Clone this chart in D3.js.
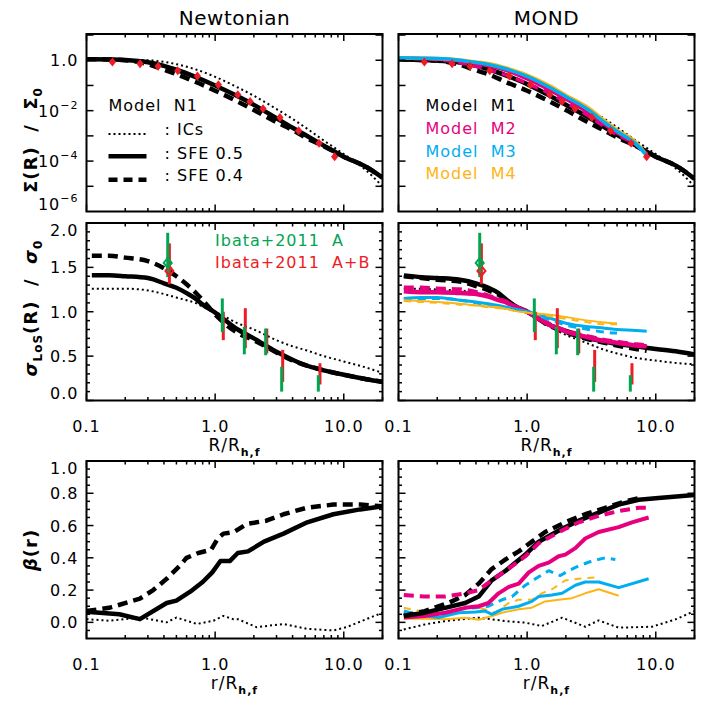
<!DOCTYPE html>
<html>
<head>
<meta charset="utf-8">
<script src="https://cdn.jsdelivr.net/npm/d3@7"></script>
<style>
  body { margin: 0; background: #fff; }
  text { font-family: "DejaVu Sans", sans-serif; letter-spacing: 1px; }
</style>
</head>
<body>
<div id="chart"></div>
<script>
// ---------- data ----------

// tick labels
var xTickVals = [0.1, 1, 10];
var xTickLabels = ["0.1", "1.0", "10.0"];
var sigTickVals = [1, 1e-2, 1e-4, 1e-6];
var sigTickBase = ["1.0", "10", "10", "10"];
var sigTickExp = ["", "\u22122", "\u22124", "\u22126"];
var velTickVals = [0, 0.5, 1, 1.5, 2];
var velTickLabels = ["0.0", "0.5", "1.0", "1.5", "2.0"];
var betaTickVals = [0, 0.2, 0.4, 0.6, 0.8, 1.0];
var betaTickLabels = ["0.0", "0.2", "0.4", "0.6", "0.8", "1.0"];

// row 1 : Sigma(R)/Sigma0
var rTop = [0.1,0.15,0.2,0.3,0.4,0.5,0.7,1,1.5,2,3,4,5,7,10,15,20];
var sigN_ics  = [1.10,1.07,1.04,1.0,0.86,0.70,0.44,0.22,0.083,0.039,0.0116,0.0047,0.0022,6.5e-4,1.9e-4,4.2e-5,9.9e-6];
var sigN_sfe5 = [1.10,1.07,1.03,0.84,0.60,0.42,0.22,0.10,0.037,0.017,0.0050,0.0021,0.0011,4.1e-4,1.5e-4,5.8e-5,2.2e-5];
var sigN_sfe4 = [1.10,1.07,1.0,0.70,0.42,0.28,0.14,0.062,0.023,0.0106,0.0035,0.0017,8.8e-4,3.9e-4,1.5e-4,5.8e-5,2.2e-5];
var sigM1_ics  = [1.10,1.07,1.04,1.0,0.86,0.70,0.44,0.22,0.083,0.039,0.0116,0.0047,0.0022,6.5e-4,1.9e-4,4.2e-5,9.9e-6];
var sigM1_sfe5 = [1.10,1.03,0.97,0.81,0.60,0.44,0.24,0.113,0.039,0.0172,0.0054,0.0022,0.0011,4.1e-4,1.5e-4,5.8e-5,2.0e-5];
var sigM1_sfe4 = [1.10,1.03,0.97,0.66,0.40,0.28,0.13,0.062,0.023,0.0106,0.0034,0.0016,8.8e-4,4.0e-4,1.5e-4,5.8e-5,2.0e-5];
var rTopM = [0.1,0.15,0.2,0.3,0.4,0.5,0.7,1,1.5,2,3,4,5,7,8.5];
var sigM2_sol  = [1.22,1.17,1.10,0.94,0.74,0.60,0.38,0.18,0.065,0.029,0.0081,0.0028,0.0013,4.8e-4,1.9e-4];
var sigM2_dash = [1.22,1.15,1.05,0.80,0.58,0.42,0.25,0.12,0.048,0.021,0.0062,0.0023,0.0011,4.5e-4,1.8e-4];
var sigM3 = [1.25,1.20,1.17,1.0,0.81,0.68,0.44,0.23,0.083,0.036,0.0106,0.0034,0.0015,4.8e-4,1.66e-4];
var sigM4 = [1.25,1.20,1.17,1.03,0.86,0.74,0.48,0.26,0.097,0.041,0.0127,0.0040,0.0017,5.6e-4,1.66e-4];
var obsR   = [0.159,0.261,0.360,0.512,0.728,1.06,1.50,1.87,2.36,3.19,4.46,6.42,8.49];
var obsSig = [0.86,0.72,0.58,0.38,0.24,0.106,0.043,0.023,0.012,0.0053,0.0016,5.1e-4,1.5e-4];

// row 2 : sigma_LoS(R)/sigma0
var rMid = [0.11,0.15,0.2,0.3,0.4,0.5,0.6,0.7,0.8,1,1.5,2,3,4,5,7,10,15,20];
var velN_ics  = [1.26,1.26,1.26,1.24,1.20,1.16,1.13,1.10,1.06,1.0,0.87,0.80,0.68,0.61,0.57,0.50,0.44,0.37,0.31];
var velN_sfe5 = [1.41,1.41,1.40,1.38,1.32,1.27,1.21,1.15,1.08,0.99,0.80,0.70,0.55,0.46,0.40,0.34,0.29,0.24,0.21];
var velN_sfe4 = [1.63,1.63,1.61,1.57,1.49,1.40,1.31,1.22,1.13,0.97,0.76,0.68,0.54,0.45,0.40,0.34,0.29,0.24,0.21];
var velM1_ics  = [1.26,1.26,1.25,1.24,1.21,1.17,1.13,1.10,1.06,1.0,0.83,0.74,0.64,0.57,0.53,0.48,0.45,0.42,0.41];
var velM1_sfe5 = [1.41,1.39,1.38,1.36,1.32,1.27,1.21,1.13,1.07,1.0,0.85,0.785,0.70,0.665,0.635,0.61,0.58,0.55,0.52];
var rMidM = [0.11,0.15,0.2,0.3,0.4,0.5,0.6,0.7,0.8,1,1.5,2,3,4,5,7,8.5];
var velM1_sfe4 = [1.40,1.38,1.36,1.34,1.29,1.24,1.19,1.12,1.06,1.0,0.84,0.77,0.69,0.65,0.62,0.58,0.56];
var velM2_sol  = [1.23,1.22,1.22,1.21,1.20,1.17,1.13,1.10,1.06,1.0,0.85,0.78,0.71,0.67,0.65,0.62,0.61];
var velM2_dash = [1.27,1.27,1.26,1.25,1.22,1.18,1.14,1.11,1.06,1.0,0.86,0.785,0.72,0.68,0.66,0.63,0.62];
var velM3_sol  = [1.15,1.16,1.16,1.13,1.11,1.09,1.07,1.05,1.03,1.0,0.93,0.87,0.83,0.815,0.80,0.79,0.78];
var rMidShort = [0.11,0.15,0.2,0.3,0.4,0.5,0.6,0.7,0.8,1,1.5,2,3,4,5];
var velM3_dash = [1.15,1.15,1.15,1.13,1.10,1.07,1.05,1.04,1.02,1.0,0.91,0.85,0.80,0.77,0.76];
var velM4_sol  = [1.13,1.12,1.11,1.09,1.07,1.06,1.05,1.03,1.01,0.99,0.965,0.94,0.90,0.88,0.87];
var velM4_dash = [1.12,1.11,1.10,1.08,1.07,1.05,1.04,1.03,1.01,0.99,0.95,0.92,0.88,0.86,0.86];
// Ibata+2011 error bars
var ibA_R  = [0.428,1.137,1.686,2.47,3.29,6.34];
var ibA_lo = [1.39,0.77,0.52,0.51,0.10,0.10];
var ibA_hi = [1.89,1.15,0.83,0.81,0.38,0.285];
var ibAB_R  = [0.441,1.157,1.716,2.52,3.35,6.53];
var ibAB_lo = [1.31,0.68,0.59,0.53,0.21,0.18];
var ibAB_hi = [1.77,1.0,1.04,0.81,0.57,0.42];
var ibA_pt  = [0.428, 1.55];
var ibAB_pt = [0.441, 1.46];

// row 3 : beta(r)
var rbN5 = [0.1,0.18,0.26,0.42,0.50,0.64,0.80,0.95,1.1,1.3,1.5,1.8,2.4,3.4,5.2,8.3,13.4,20];
var betaN_sfe5 = [0.066,0.05,0.02,0.12,0.135,0.19,0.25,0.31,0.38,0.38,0.43,0.44,0.50,0.55,0.62,0.67,0.70,0.72];
var rbN4 = [0.1,0.15,0.26,0.33,0.42,0.53,0.6,0.74,0.93,1.05,1.16,1.4,1.76,2.1,2.5,3.4,5.15,8.3,13.4,20];
var betaN_sfe4 = [0.07,0.09,0.147,0.2,0.27,0.35,0.40,0.43,0.45,0.52,0.55,0.56,0.61,0.62,0.63,0.67,0.71,0.73,0.73,0.72];
var rbNi = [0.1,0.15,0.26,0.31,0.42,0.50,0.72,0.97,1.16,1.38,1.5,2.1,3.4,5.15,8.3,10.5,13,20];
var betaN_ics = [0.02,0.01,0.03,0.02,0.0,0.03,-0.01,0.01,0.04,0.02,0.02,-0.03,-0.01,-0.04,-0.05,-0.03,0.0,0.06];

var rbM5 = [0.11,0.16,0.23,0.33,0.42,0.53,0.68,0.97,1.23,1.87,2.52,3.6,5.15,7.36,10.5,20];
var betaM1_sfe5 = [0.04,0.06,0.09,0.12,0.16,0.26,0.32,0.42,0.50,0.58,0.63,0.68,0.73,0.76,0.77,0.79];
var rbM4 = [0.11,0.16,0.245,0.33,0.42,0.53,0.68,0.86,1.09,1.38,1.98,2.83,4.05,5.8,7.4];
var betaM1_sfe4 = [0.04,0.07,0.12,0.17,0.24,0.33,0.39,0.44,0.50,0.56,0.62,0.67,0.71,0.75,0.77];
var rbMi = [0.11,0.16,0.23,0.42,0.68,0.97,1.3,1.87,2.83,3.6,5.15,9.35,14.2,20];
var betaM1_ics = [-0.044,-0.013,0.008,0.029,0.008,-0.002,-0.023,0.029,-0.027,0.012,-0.033,-0.027,0.018,0.07];
var rbM2s = [0.11,0.16,0.23,0.33,0.42,0.50,0.60,0.72,0.86,1.03,1.23,1.47,1.76,1.98,2.37,2.83,3.6,5.15,6.53,8.8];
var betaM2_sol = [0.03,0.04,0.06,0.09,0.10,0.12,0.18,0.22,0.24,0.31,0.35,0.37,0.41,0.42,0.46,0.52,0.56,0.59,0.62,0.65];
var rbM2d = [0.11,0.16,0.23,0.33,0.42,0.53,0.68,0.97,1.23,1.87,2.52,3.6,5.15,7.36,8.8];
var betaM2_dash = [0.17,0.16,0.16,0.18,0.20,0.26,0.32,0.41,0.49,0.57,0.62,0.66,0.69,0.71,0.71];
var rbM3s = [0.11,0.162,0.205,0.294,0.396,0.473,0.533,0.638,0.859,1.09,1.23,1.56,1.87,2.37,2.83,3.6,5.15,8.8];
var betaM3_sol = [0.06,0.04,0.03,0.06,0.064,0.07,0.05,0.081,0.10,0.13,0.16,0.17,0.18,0.23,0.25,0.25,0.215,0.27];
var rbM3d = [0.11,0.152,0.205,0.294,0.396,0.50,0.638,0.763,0.968,1.16,1.47,1.81,2.10,2.52,3.19,4.05,4.85];
var betaM3_dash = [0.07,0.043,0.035,0.081,0.091,0.10,0.14,0.16,0.23,0.27,0.32,0.29,0.32,0.35,0.38,0.40,0.39];
var rbM4s = [0.11,0.162,0.23,0.331,0.42,0.533,0.638,0.859,1.09,1.38,1.76,2.23,2.83,3.6,5.15];
var betaM4_sol = [0.023,0.023,0.02,0.029,0.016,0.039,0.06,0.081,0.091,0.13,0.14,0.15,0.18,0.205,0.165];
var rbM4d = [0.11,0.162,0.231,0.294,0.373,0.473,0.566,0.719,0.859,1.09,1.30,1.56,1.98,2.52,3.6];
var betaM4_dash = [0.09,0.064,0.06,0.07,0.10,0.08,0.06,0.12,0.14,0.14,0.18,0.205,0.26,0.27,0.28];

// ---------- layout ----------
var W = 709, H = 709;
var pw = 296, ph = 177.5;
var colX = [86.5, 398.5];
var rowY = [34, 223, 461];

var BLACK = "#000", MAG = "#e6007e", CYAN = "#00aeef", YEL = "#fdb515",
    GREEN = "#00a550", RED = "#ee1c25";

var x = d3.scaleLog().domain([0.1, 20]).range([0, pw]);
var ySig = d3.scaleLog().domain([1e-6, 11]).range([ph, 0]);
var yVel = d3.scaleLinear().domain([0, 2]).range([ph, 0]);
var yBeta = d3.scaleLinear().domain([-0.1, 1.0]).range([ph, 0]);

var svg = d3.select("#chart").append("svg")
  .attr("width", W).attr("height", H)
  .style("background", "#fff");

svg.append("defs").append("clipPath").attr("id", "clip")
  .append("rect").attr("width", pw).attr("height", ph);

function panel(col, row) {
  var g = svg.append("g").attr("transform", "translate(" + colX[col] + "," + rowY[row] + ")");
  g.plot = g.append("g").attr("clip-path", "url(#clip)");
  return g;
}

// line styles
var DOT = {w: 2, dash: "2,3"};
function curve(g, y, xs, ys, color, width, dash, smooth) {
  var pts = xs.map(function(d, i) { return [x(d), y(ys[i])]; });
  var line = d3.line().curve(smooth ? d3.curveMonotoneX : d3.curveLinear);
  g.plot.append("path").datum(pts)
    .attr("d", line)
    .attr("fill", "none")
    .attr("stroke", color)
    .attr("stroke-width", width)
    .attr("stroke-dasharray", dash || null)
    .attr("stroke-linejoin", "round");
}

// frame with inward ticks on all four sides
function frame(g, y, yMajor, yMinor) {
  var big = 7, small = 3.5;
  var tk = g.append("g").attr("stroke", "#000").attr("stroke-width", 1.5);
  x.ticks().forEach(function(v) {
    var lg = Math.log10(v), major = Math.abs(lg - Math.round(lg)) < 1e-6;
    var l = major ? big : small, px = x(v);
    tk.append("line").attr("x1", px).attr("x2", px).attr("y1", ph).attr("y2", ph - l);
    tk.append("line").attr("x1", px).attr("x2", px).attr("y1", 0).attr("y2", l);
  });
  yMajor.forEach(function(v) {
    var py = y(v);
    tk.append("line").attr("x1", 0).attr("x2", big).attr("y1", py).attr("y2", py);
    tk.append("line").attr("x1", pw).attr("x2", pw - big).attr("y1", py).attr("y2", py);
  });
  yMinor.forEach(function(v) {
    var py = y(v);
    tk.append("line").attr("x1", 0).attr("x2", small).attr("y1", py).attr("y2", py);
    tk.append("line").attr("x1", pw).attr("x2", pw - small).attr("y1", py).attr("y2", py);
  });
  g.append("rect").attr("width", pw).attr("height", ph)
    .attr("fill", "none").attr("stroke", "#000").attr("stroke-width", 2);
}

function xLabels(g) {
  g.selectAll("text.xl").data(xTickVals).join("text")
    .attr("class", "xl")
    .attr("x", function(d) { return x(d); })
    .attr("y", ph + 31)
    .attr("text-anchor", "middle")
    .attr("font-size", 16)
    .text(function(d, i) { return xTickLabels[i]; });
}

// y tick labels, the ones on a frame edge are pushed inside like in the original
function yLabels(g, y, vals, labels, exps) {
  var dom = y.domain();
  vals.forEach(function(v, i) {
    var py = y(v) + 6;
    if (Math.abs(v - dom[0]) < 1e-9) py -= 8;
    if (Math.abs(v - dom[1]) < 1e-9) py += 7;
    var t = g.append("text").attr("x", -8).attr("y", py)
      .attr("text-anchor", "end").attr("font-size", 16).text(labels[i]);
    if (exps && exps[i]) {
      t.append("tspan").attr("dy", -8).attr("font-size", 11).text(exps[i]);
    }
  });
}

function xTitle(g, first) {
  var t = g.append("text").attr("x", pw / 2).attr("y", ph + 50)
    .attr("text-anchor", "middle").attr("font-size", 17).text(first + "/R");
  t.append("tspan").attr("dy", 5).attr("font-size", 11).attr("font-weight", "bold").text("h,f");
}

function diamond(g, cx, cy, r, color, filled) {
  g.append("path")
    .attr("d", "M" + cx + "," + (cy - r) + "L" + (cx + r * 0.8) + "," + cy +
               "L" + cx + "," + (cy + r) + "L" + (cx - r * 0.8) + "," + cy + "Z")
    .attr("fill", filled ? color : "none")
    .attr("stroke", color)
    .attr("stroke-width", filled ? 0 : 2);
}

var sigMajor = [1e-5, 1e-4, 1e-3, 1e-2, 1e-1, 1, 10];
var velMinor = d3.range(0.1, 2, 0.1).filter(function(v) { return Math.abs(v * 2 - Math.round(v * 2)) > 1e-6; });
var betaMinor = d3.range(-0.05, 1.0, 0.05).filter(function(v) { return Math.abs(v * 5 - Math.round(v * 5)) > 1e-6; });
var betaMajor = [0, 0.2, 0.4, 0.6, 0.8];

// column titles
svg.append("text").attr("x", colX[0] + pw / 2).attr("y", 25).attr("text-anchor", "middle")
  .attr("font-size", 20).style("letter-spacing", "0.5px").text("Newtonian");
svg.append("text").attr("x", colX[1] + pw / 2).attr("y", 25).attr("text-anchor", "middle")
  .attr("font-size", 20).style("letter-spacing", "0.5px").text("MOND");

// ---------- row 1 ----------
var p = panel(0, 0);
curve(p, ySig, rTop, sigN_ics, BLACK, DOT.w, DOT.dash, true);
curve(p, ySig, rTop, sigN_sfe5, BLACK, 4.5, null, true);
curve(p, ySig, rTop, sigN_sfe4, BLACK, 4.5, "10,6", true);
obsR.forEach(function(d, i) { diamond(p, x(d), ySig(obsSig[i]), 4.5, RED, true); });
frame(p, ySig, sigMajor, []);
yLabels(p, ySig, sigTickVals, sigTickBase, sigTickExp);
// legend
p.append("text").attr("x", 22).attr("y", 77).attr("font-size", 16).text("Model\u00a0\u00a0N1");
var legN = [[": ICs", DOT.w, DOT.dash, 100, 100.7], [": SFE 0.5", 4.5, null, 122.3, 125.3], [": SFE 0.4", 4.5, "9,6", 145.7, 147.3]];
legN.forEach(function(l) {
  p.append("line").attr("x1", 22).attr("x2", 60).attr("y1", l[3]).attr("y2", l[3])
    .attr("stroke", "#000").attr("stroke-width", l[1]).attr("stroke-dasharray", l[2]);
  p.append("text").attr("x", 78).attr("y", l[4]).attr("font-size", 16).text(l[0]);
});

p = panel(1, 0);
curve(p, ySig, rTop, sigM1_ics, BLACK, DOT.w, DOT.dash, true);
curve(p, ySig, rTop, sigM1_sfe5, BLACK, 4.5, null, true);
curve(p, ySig, rTop, sigM1_sfe4, BLACK, 4.5, "10,6", true);
curve(p, ySig, rTopM, sigM2_sol, MAG, 3.5, null, true);
curve(p, ySig, rTopM, sigM2_dash, MAG, 3.5, "9,6", true);
curve(p, ySig, rTopM, sigM4, YEL, 3.5, null, true);
curve(p, ySig, rTopM, sigM3, CYAN, 3.5, null, true);
obsR.forEach(function(d, i) { diamond(p, x(d), ySig(obsSig[i]), 4.5, RED, true); });
frame(p, ySig, sigMajor, []);
var legM = [["Model\u00a0\u00a0M1", BLACK], ["Model\u00a0\u00a0M2", MAG], ["Model\u00a0\u00a0M3", CYAN], ["Model\u00a0\u00a0M4", YEL]];
legM.forEach(function(l, i) {
  p.append("text").attr("x", 27).attr("y", 77.3 + i * 22.6).attr("font-size", 16)
    .attr("fill", l[1]).text(l[0]);
});

// ---------- row 2 ----------
function errBars(g) {
  var eb = g.append("g").attr("stroke-width", 3);
  ibAB_R.forEach(function(d, i) {
    eb.append("line").attr("x1", x(d)).attr("x2", x(d))
      .attr("y1", yVel(ibAB_lo[i])).attr("y2", yVel(ibAB_hi[i]))
      .attr("stroke", RED);
  });
  diamond(g, x(ibAB_pt[0]), yVel(ibAB_pt[1]), 5, RED, false);
  ibA_R.forEach(function(d, i) {
    eb.append("line").attr("x1", x(d)).attr("x2", x(d))
      .attr("y1", yVel(ibA_lo[i])).attr("y2", yVel(ibA_hi[i]))
      .attr("stroke", GREEN);
  });
  diamond(g, x(ibA_pt[0]), yVel(ibA_pt[1]), 5, GREEN, false);
}

p = panel(0, 1);
curve(p, yVel, rMid, velN_ics, BLACK, DOT.w, DOT.dash, true);
curve(p, yVel, rMid, velN_sfe4, BLACK, 4.5, "10,6", true);
curve(p, yVel, rMid, velN_sfe5, BLACK, 4.5, null, true);
errBars(p);
frame(p, yVel, velTickVals, velMinor);
yLabels(p, yVel, velTickVals, velTickLabels);
xLabels(p);
xTitle(p, "R");
p.append("text").attr("x", 128.5).attr("y", 23.3).attr("font-size", 16).attr("fill", GREEN).text("Ibata+2011\u00a0\u00a0A");
p.append("text").attr("x", 128.5).attr("y", 45).attr("font-size", 16).attr("fill", RED).text("Ibata+2011\u00a0\u00a0A+B");

p = panel(1, 1);
curve(p, yVel, rMid, velM1_ics, BLACK, DOT.w, DOT.dash, true);
curve(p, yVel, rMid, velM1_sfe5, BLACK, 4.5, null, true);
curve(p, yVel, rMidM, velM1_sfe4, BLACK, 4.5, "10,6", true);
curve(p, yVel, rMidM, velM2_sol, MAG, 4.5, null, true);
curve(p, yVel, rMidM, velM2_dash, MAG, 4.5, "10,6", true);
curve(p, yVel, rMidM, velM3_sol, CYAN, 3, null, true);
curve(p, yVel, rMidShort, velM3_dash, CYAN, 3, "8,6", true);
curve(p, yVel, rMidShort, velM4_sol, YEL, 2, null, true);
curve(p, yVel, rMidShort, velM4_dash, YEL, 2, "7,6", true);
errBars(p);
frame(p, yVel, velTickVals, velMinor);
xLabels(p);
xTitle(p, "R");

// ---------- row 3 ----------
p = panel(0, 2);
curve(p, yBeta, rbNi, betaN_ics, BLACK, DOT.w, DOT.dash, false);
curve(p, yBeta, rbN4, betaN_sfe4, BLACK, 4.5, "10,6", false);
curve(p, yBeta, rbN5, betaN_sfe5, BLACK, 4.5, null, false);
frame(p, yBeta, betaMajor.concat([1.0]), betaMinor);
yLabels(p, yBeta, betaTickVals, betaTickLabels);
xLabels(p);
xTitle(p, "r");

p = panel(1, 2);
curve(p, yBeta, rbMi, betaM1_ics, BLACK, DOT.w, DOT.dash, false);
curve(p, yBeta, rbM4s, betaM4_sol, YEL, 2, null, false);
curve(p, yBeta, rbM4d, betaM4_dash, YEL, 2, "7,6", false);
curve(p, yBeta, rbM3s, betaM3_sol, CYAN, 3, null, false);
curve(p, yBeta, rbM3d, betaM3_dash, CYAN, 3, "8,6", false);
curve(p, yBeta, rbM2s, betaM2_sol, MAG, 4, null, false);
curve(p, yBeta, rbM5, betaM1_sfe5, BLACK, 4.5, null, false);
curve(p, yBeta, rbM4, betaM1_sfe4, BLACK, 4.5, "10,6", false);
curve(p, yBeta, rbM2d, betaM2_dash, MAG, 4, "10,6", false);
frame(p, yBeta, betaMajor.concat([1.0]), betaMinor);
xLabels(p);
xTitle(p, "r");

// ---------- y axis titles ----------
var t1 = svg.append("text").attr("transform", "translate(37,140) rotate(-90)")
  .attr("text-anchor", "middle").attr("font-size", 18).attr("font-weight", "bold")
  .text("\u03a3(R)\u00a0\u00a0/\u00a0\u00a0\u03a3");
t1.append("tspan").attr("dy", 5).attr("font-size", 12).text("0");

var t2 = svg.append("text").attr("transform", "translate(37,308) rotate(-90)")
  .attr("text-anchor", "middle").attr("font-size", 18).attr("font-weight", "bold");
t2.append("tspan").attr("font-style", "italic").text("\u03c3");
t2.append("tspan").attr("dy", 5).attr("font-size", 12).text("LoS");
t2.append("tspan").attr("dy", -5).text("(R)\u00a0\u00a0/\u00a0\u00a0");
t2.append("tspan").attr("font-style", "italic").text("\u03c3");
t2.append("tspan").attr("dy", 5).attr("font-size", 12).text("0");

var t3 = svg.append("text").attr("transform", "translate(37,550) rotate(-90)")
  .attr("text-anchor", "middle").attr("font-size", 18).attr("font-weight", "bold");
t3.append("tspan").attr("font-style", "italic").text("\u03b2");
t3.append("tspan").text("(r)");
</script>
</body>
</html>
